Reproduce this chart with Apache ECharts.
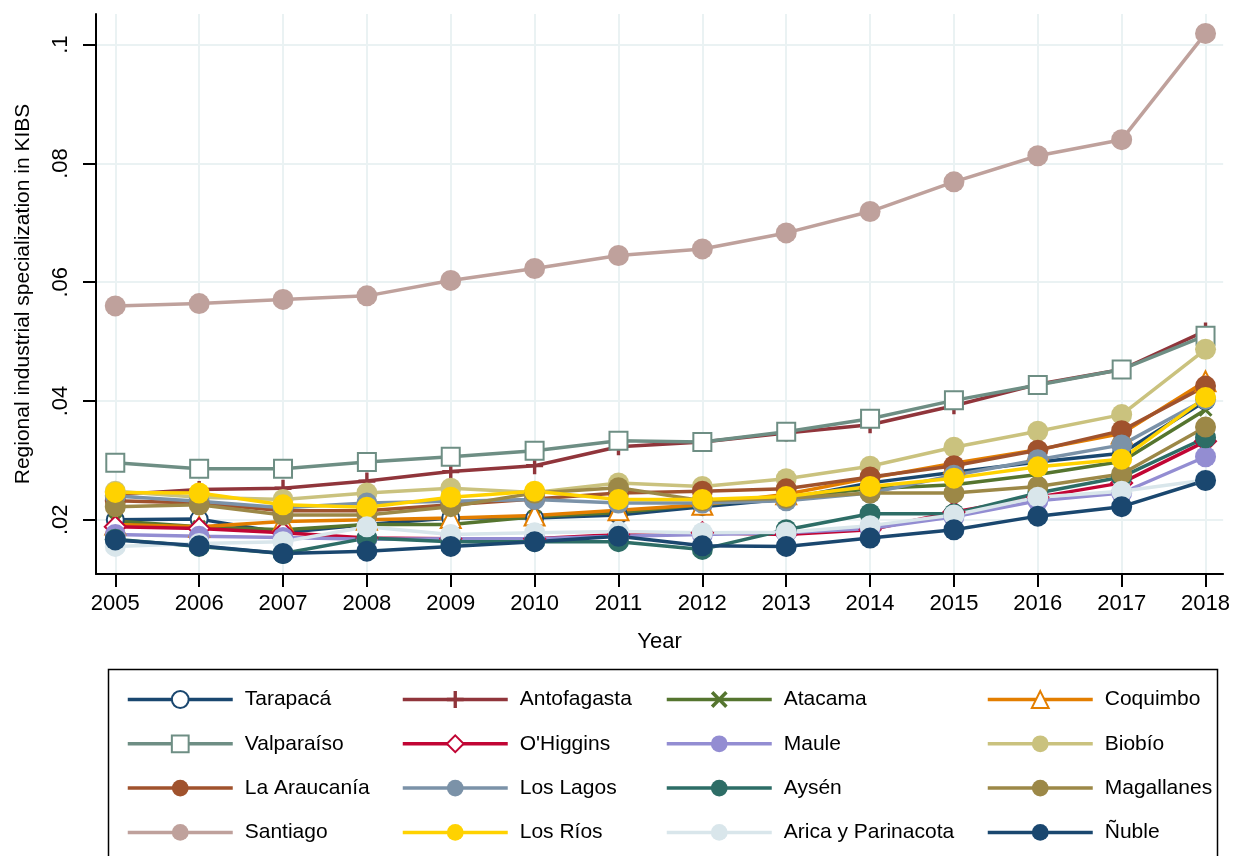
<!DOCTYPE html>
<html><head><meta charset="utf-8">
<script src="https://cdn.jsdelivr.net/npm/echarts@6/dist/echarts.min.js"></script>
<style>html,body{margin:0;padding:0;background:#fff}#c{width:1233px;height:856px}</style>
</head><body><div id="c"></div>
<script>
const years = [2005,2006,2007,2008,2009,2010,2011,2012,2013,2014,2015,2016,2017,2018];
const yTicks = [0.02,0.04,0.06,0.08,0.1];
const names = ['Tarapacá','Antofagasta','Atacama','Coquimbo','Valparaíso',"O'Higgins",'Maule','Biobío','La Araucanía','Los Lagos','Aysén','Magallanes','Santiago','Los Ríos','Arica y Parinacota','Ñuble'];
const tarapaca   = [0.0200,0.0201,0.0178,0.0192,0.0203,0.0203,0.0208,0.0222,0.0235,0.0262,0.0280,0.0297,0.0312,0.0400];
const antofagasta= [0.0242,0.0251,0.0253,0.0265,0.0281,0.0291,0.0323,0.0331,0.0346,0.0360,0.0392,0.0428,0.0453,0.0518];
const atacama    = [0.0198,0.0188,0.0183,0.0192,0.0192,0.0205,0.0212,0.0225,0.0238,0.0252,0.0259,0.0276,0.0298,0.0385];
const coquimbo   = [0.0192,0.0188,0.0197,0.0200,0.0203,0.0207,0.0216,0.0225,0.0243,0.0270,0.0295,0.0318,0.0345,0.0433];
const valparaiso = [0.0296,0.0286,0.0286,0.0297,0.0306,0.0316,0.0333,0.0331,0.0348,0.0370,0.0401,0.0427,0.0453,0.0510];
const ohiggins   = [0.0188,0.0185,0.0178,0.0169,0.0168,0.0168,0.0175,0.0178,0.0175,0.0183,0.0213,0.0238,0.0262,0.0332];
const maule      = [0.0175,0.0172,0.0170,0.0167,0.0168,0.0168,0.0172,0.0175,0.0178,0.0185,0.0205,0.0232,0.0245,0.0306];
const biobio     = [0.0248,0.0238,0.0234,0.0245,0.0253,0.0246,0.0262,0.0256,0.0269,0.0290,0.0322,0.0349,0.0377,0.0487];
const araucania  = [0.0232,0.0228,0.0215,0.0215,0.0225,0.0235,0.0245,0.0248,0.0252,0.0272,0.0291,0.0317,0.0350,0.0425];
const losLagos   = [0.0240,0.0231,0.0220,0.0228,0.0231,0.0234,0.0228,0.0228,0.0232,0.0245,0.0275,0.0301,0.0326,0.0403];
const aysen      = [0.0167,0.0155,0.0143,0.0169,0.0163,0.0163,0.0163,0.0150,0.0183,0.0210,0.0210,0.0245,0.0272,0.0338];
const magallanes = [0.0222,0.0225,0.0208,0.0208,0.0222,0.0245,0.0254,0.0232,0.0236,0.0245,0.0245,0.0256,0.0277,0.0356];
const santiago   = [0.0560,0.0564,0.0571,0.0577,0.0603,0.0623,0.0645,0.0656,0.0683,0.0719,0.0769,0.0813,0.0840,0.1019];
const losRios    = [0.0246,0.0245,0.0225,0.0221,0.0238,0.0248,0.0234,0.0234,0.0239,0.0256,0.0270,0.0289,0.0302,0.0406];
const arica      = [0.0155,0.0160,0.0163,0.0188,0.0175,0.0178,0.0180,0.0178,0.0179,0.0190,0.0208,0.0238,0.0248,0.0267];
const nuble      = [0.0166,0.0156,0.0143,0.0147,0.0155,0.0163,0.0172,0.0156,0.0155,0.0169,0.0183,0.0206,0.0222,0.0266];

const values = [tarapaca,antofagasta,atacama,coquimbo,valparaiso,ohiggins,maule,biobio,araucania,losLagos,aysen,magallanes,santiago,losRios,arica,nuble];
const colors = ['#1a476f','#90353b','#55752f','#e37e00','#6e8e84','#c10534','#938dd2','#cac27e','#a0522d','#7b92a8','#2d6d66','#9c8847','#bfa19c','#ffd200','#d9e6eb','#1a476f'];
const PLUS = 'path://M4,0H6V4H10V6H6V10H4V6H0V4H4Z';
const XMARK = 'path://M0,1.5L1.5,0L5,3.5L8.5,0L10,1.5L6.5,5L10,8.5L8.5,10L5,6.5L1.5,10L0,8.5L3.5,5Z';
const symbols = ['emptyCircle',PLUS,XMARK,'emptyTriangle','emptyRect','emptyDiamond','circle','circle','circle','circle','circle','circle','circle','circle','circle','circle'];
const sizes = [17,17,14,20,18,21,21,21,21,21,21,21,21,21,21,21];

const font = "'Liberation Sans',Arial,sans-serif";

const series = names.map((n,i)=>({
  name:n, type:'line', data: years.map((y,j)=>[y, values[i][j]]),
  symbol: symbols[i], symbolSize: sizes[i], showSymbol:true,
  lineStyle:{color:colors[i], width:3.5},
  itemStyle:{color:colors[i], borderWidth: symbols[i].startsWith('empty') ? 3 : 0, borderColor: colors[i]},
  emphasis:{disabled:true}, animation:false, clip:false
}));

const colLeft = [121, 396, 660, 981];
const legends = [0,1,2,3].map(c=>({
  orient:'vertical', left: colLeft[c], top: 684,
  data: [names[c], names[c+4], names[c+8], names[c+12]],
  itemWidth: 105, itemHeight: 21, itemGap: 23.3, selectedMode:false,
  lineStyle:{width:3.5},
  textStyle:{fontFamily: font, fontSize: 21, color:'#000', padding:[0,0,0,7]}
}));

const chart = echarts.init(document.getElementById('c'), null, {renderer:'canvas'});
chart.setOption({
  animation:false,
  backgroundColor:'#fff',
  grid:{left:96, right:8, top:14, bottom:282, containLabel:false},
  xAxis:{type:'value', min:2004.77, max:2018.21,
    name:'Year', nameLocation:'middle', nameGap:57,
    nameTextStyle:{fontFamily:font, fontSize:22, color:'#000'},
    axisLine:{show:true, onZero:false, lineStyle:{color:'#000', width:2}},
    axisTick:{show:true, length:13, lineStyle:{color:'#000', width:2}, customValues: years},
    axisLabel:{customValues: years, margin:19, fontFamily:font, fontSize:22, color:'#000', formatter: v=>String(v)},
    splitLine:{show:true, lineStyle:{color:'#eaf2f3', width:2}}
  },
  yAxis:{type:'value', min:0.010855, max:0.10517,
    name:'Regional industrial specialization in KIBS', nameLocation:'middle', nameRotate:90, nameGap:62,
    nameTextStyle:{fontFamily:font, fontSize:21, color:'#000'},
    axisLine:{show:true, onZero:false, lineStyle:{color:'#000', width:2}},
    axisTick:{show:true, length:13, lineStyle:{color:'#000', width:2}, customValues: yTicks},
    axisLabel:{customValues: yTicks, rotate:90, margin:24, fontFamily:font, fontSize:22, color:'#000',
      formatter: v=>String(+v.toFixed(4)).replace(/^0/,'')},
    splitLine:{show:true, lineStyle:{color:'#eaf2f3', width:2}}
  },
  legend: legends,
  graphic:[{type:'rect', left:106, top:667, z:100, silent:true,
    shape:{width:1109, height:200}, style:{fill:'none', stroke:'#000', lineWidth:1.5}}],
  series: series
});
</script></body></html>
